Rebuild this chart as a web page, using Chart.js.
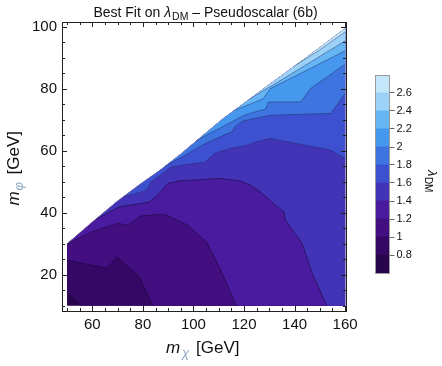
<!DOCTYPE html>
<html><head><meta charset="utf-8">
<script src="https://cdn.jsdelivr.net/npm/chart.js@4.4.1/dist/chart.umd.min.js"></script>
<style>
html,body{margin:0;padding:0;background:#fff;}
#wrap{position:relative;width:442px;height:366px;overflow:hidden;}
#main{position:absolute;left:0;top:0;width:442px;height:366px;}
#cb{position:absolute;left:360px;top:60px;width:82px;height:230px;}
</style></head><body>
<div id="wrap"><canvas id="main" width="442" height="366"></canvas><canvas id="cb" width="82" height="230"></canvas></div>
<script>
// ---------- data ----------
const X_TICKS = [60, 80, 100, 120, 140, 160];
const Y_TICKS = [20, 40, 60, 80, 100];
const LEVELS = [0.8, 1.0, 1.2, 1.4, 1.6, 1.8, 2.0, 2.2, 2.4, 2.6];
const BAND_EDGES = [0.6, 0.8, 1.0, 1.2, 1.4, 1.6, 1.8, 2.0, 2.2, 2.4, 2.6, 2.8];
const X_RANGE = [50, 160];
const Y_FLOOR = 10;
// upper edge of the allowed region (m_phi vs m_chi)
const TOP_EDGE = [[50,30],[60,37],[70,43.8],[79,49.3],[87,53.9],[95,59],[103,64.5],[112,70.6],[120,75.4],[130,81.4],[140,87.4],[150,93.4],[160,99.5]];
// contour lines of lambda_DM (one per level)
const C_08 = [[50,14.5],[55.4,10]];
const C_10 = [[50,24.7],[66,22.1],[69.6,25.8],[78.6,19.4],[83.9,10]];
const C_12 = [[50,30],[60,33.9],[70,36.6],[73.9,36],[79.3,39],[86.6,39.5],[89.2,39.3],[97.8,36],[105.2,30.6],[110.8,21.5],[117,10]];
const C_14 = [[61,37.7],[70.6,41.9],[82.6,43.5],[86.6,46.3],[89.9,49.5],[94.5,50.3],[110.5,51.1],[118.4,50.3],[122.5,48.9],[126.4,46.8],[131.7,43],[135.8,40.3],[136.4,37.6],[143,30.1],[147,20.4],[152.8,10]];
const C_16 = [[72.5,45.3],[78.6,46.5],[81.5,47.3],[83.3,50],[86.6,51.8],[91.2,54.8],[96.5,55.5],[104.5,56.3],[108.5,59.2],[114.5,60.8],[119.8,61.5],[125.1,62.9],[130.4,64],[154.3,60.2],[160,57.5]];
const C_18 = [[89,55.2],[96.5,58.5],[103.8,62],[111.8,65],[115.2,66.1],[116.5,67.8],[119.1,69.5],[123.7,70.4],[130.4,71.5],[154.3,72.1],[160,78.5]];
const C_20 = [[101,63.2],[106,65.5],[112,68],[120,71.5],[125.7,72.9],[128.4,73.4],[129.7,75.8],[142.4,75.8],[146.3,80.1],[160,88]];
const C_22 = [[116,73],[124,75.6],[127.7,76.9],[129,78.5],[130.4,80.1],[160,92.3]];
const C_24 = [[122,76.6],[128,79.6],[131,81],[160,95.5]];
const C_26 = [[140,87.4],[150,92.6],[160,98.4]];
const CONTOURS = [C_08, C_10, C_12, C_14, C_16, C_18, C_20, C_22, C_24, C_26];

// ---------- styles ----------
const PALETTE = ['#29054e','#350866','#430e80','#4a1b9f','#4333b6','#3c50d0','#3d74e0','#4598ee','#66b6f5','#9dd2f8','#c4e6fa'];
const FONT = "'Liberation Sans', Arial, Helvetica, sans-serif";

// region where lambda exceeds a level: contour line closed along the domain edge
function regionAbove(line) {
  const s = line[0], e = line[line.length - 1];
  const pts = line.slice();
  if (e[1] <= Y_FLOOR + 1e-6) pts.push([X_RANGE[1], Y_FLOOR]);
  pts.push(TOP_EDGE[TOP_EDGE.length - 1]);
  for (let i = TOP_EDGE.length - 2; i >= 1; i--) if (TOP_EDGE[i][0] > s[0] + 0.01) pts.push(TOP_EDGE[i]);
  if (s[0] <= X_RANGE[0] + 1e-6 && s[1] < TOP_EDGE[0][1]) pts.push(TOP_EDGE[0]);
  pts.push(s);
  return pts;
}
const toXY = pts => pts.map(p => ({x: p[0], y: p[1]}));

const layers = [];
layers.push({data: toXY([[X_RANGE[0], Y_FLOOR], ...TOP_EDGE, [X_RANGE[1], Y_FLOOR], [X_RANGE[0], Y_FLOOR]]),
  backgroundColor: PALETTE[0], borderWidth: 0, fill: 'shape'});
CONTOURS.forEach((c, i) => layers.push({data: toXY(regionAbove(c)), backgroundColor: PALETTE[i + 1], borderWidth: 0, fill: 'shape'}));
CONTOURS.forEach((c, i) => layers.push({data: toXY(c), borderColor: i < 4 ? 'rgba(20,8,50,0.55)' : 'rgba(30,40,90,0.45)', borderWidth: 1, fill: false}));
layers.push({data: toXY(TOP_EDGE), borderColor: 'rgba(170,170,180,0.55)', borderWidth: 0.8, fill: false});
const N = layers.length;
layers.forEach((d, i) => { d.order = N - i; d.pointRadius = 0; d.tension = 0; d.borderColor = d.borderColor || 'rgba(0,0,0,0)'; });

const mainDecor = {
  id: 'mainDecor',
  afterDraw(chart) {
    const ctx = chart.ctx, a = chart.chartArea, xs = chart.scales.x, ys = chart.scales.y;
    ctx.save();
    ctx.strokeStyle = '#222'; ctx.lineWidth = 1;
    ctx.strokeRect(Math.round(a.left) + 0.5, Math.round(a.top) + 0.5, Math.round(a.right - a.left), Math.round(a.bottom - a.top));
    ctx.beginPath();
    for (let v = 50; v <= 160; v += 5) {
      const px = Math.round(xs.getPixelForValue(v)) + 0.5;
      const len = X_TICKS.includes(v) ? 5 : 3;
      ctx.moveTo(px, a.bottom); ctx.lineTo(px, a.bottom - len);
      ctx.moveTo(px, a.top); ctx.lineTo(px, a.top + len);
    }
    for (let v = 10; v <= 100; v += 5) {
      const py = Math.round(ys.getPixelForValue(v)) + 0.5;
      const len = Y_TICKS.includes(v) ? 5 : 3;
      ctx.moveTo(a.left, py); ctx.lineTo(a.left + len, py);
      ctx.moveTo(a.right, py); ctx.lineTo(a.right - len, py);
    }
    ctx.stroke();

    // title
    ctx.fillStyle = '#111'; ctx.textBaseline = 'alphabetic';
    const p1 = 'Best Fit on ', p2 = 'λ', p3 = 'DM', p4 = ' – Pseudoscalar (6b)';
    ctx.font = '14px ' + FONT; const w1 = ctx.measureText(p1).width;
    ctx.font = 'italic 14px ' + FONT; const w2 = ctx.measureText(p2).width;
    ctx.font = '10.5px ' + FONT; const w3 = ctx.measureText(p3).width;
    ctx.font = '14px ' + FONT; const w4 = ctx.measureText(p4).width;
    let tx = 205.5 - (w1 + w2 + w3 + w4 + 1) / 2;
    ctx.font = '14px ' + FONT; ctx.fillText(p1, tx, 16.5); tx += w1;
    ctx.font = 'italic 14px ' + FONT; ctx.fillText(p2, tx, 16.5); tx += w2 + 1;
    ctx.font = '10.5px ' + FONT; ctx.fillText(p3, tx, 19.5); tx += w3;
    ctx.font = '14px ' + FONT; ctx.fillText(p4, tx, 16.5);

    // x axis title
    const cx = (a.left + a.right) / 2;
    ctx.fillStyle = '#111';
    ctx.font = 'italic 17px ' + FONT; ctx.fillText('m', cx - 38, 353);
    ctx.fillStyle = '#8fa6c4'; ctx.font = 'italic 13px ' + FONT; ctx.fillText('χ', cx - 22, 357);
    ctx.fillStyle = '#111'; ctx.font = '17px ' + FONT; ctx.fillText('[GeV]', cx - 8, 353);

    // y axis title
    ctx.translate(18.5, 205.5); ctx.rotate(-Math.PI / 2);
    ctx.font = 'italic 17px ' + FONT; ctx.fillText('m', 0, 0);
    ctx.fillStyle = '#8fa6c4'; ctx.font = 'italic 13px ' + FONT; ctx.fillText('φ', 15, 4);
    ctx.fillStyle = '#111'; ctx.font = '17px ' + FONT; ctx.fillText('[GeV]', 31, 0);
    ctx.restore();
  }
};

new Chart(document.getElementById('main'), {
  type: 'line',
  data: {datasets: layers},
  options: {
    responsive: false, animation: false, events: [],
    layout: {padding: {left: 0, top: 22, right: 96, bottom: 0}},
    plugins: {legend: {display: false}, tooltip: {enabled: false}, title: {display: false}},
    scales: {
      x: {type: 'linear', min: 48, max: 160.35,
        afterBuildTicks: s => { s.ticks = X_TICKS.map(v => ({value: v})); },
        afterFit: s => { s.height = 55; },
        grid: {display: false, drawTicks: false}, border: {display: false},
        ticks: {color: '#111', padding: 5, maxRotation: 0, font: {family: FONT, size: 15}}},
      y: {type: 'linear', min: 8.3, max: 101.6,
        afterBuildTicks: s => { s.ticks = Y_TICKS.map(v => ({value: v})); },
        afterFit: s => { s.width = 62; },
        grid: {display: false, drawTicks: false}, border: {display: false},
        ticks: {color: '#111', padding: 5, font: {family: FONT, size: 15}}}
    }
  },
  plugins: [mainDecor]
});

// ---------- colour bar ----------
const cbDecor = {
  id: 'cbDecor',
  afterDraw(chart) {
    const ctx = chart.ctx, a = chart.chartArea;
    ctx.save();
    ctx.strokeStyle = '#9a9a9a'; ctx.lineWidth = 1;
    ctx.strokeRect(Math.round(a.left) + 0.5, Math.round(a.top) + 0.5, Math.round(a.right - a.left) - 1, Math.round(a.bottom - a.top));
    ctx.fillStyle = '#111'; ctx.textBaseline = 'alphabetic';
    ctx.translate(68, 110); ctx.rotate(Math.PI / 2);
    ctx.font = 'italic 13px ' + FONT; ctx.fillText('λ', 0, 0);
    const w = ctx.measureText('λ').width;
    ctx.font = '10px ' + FONT; ctx.fillText('DM', w + 0.5, 3);
    ctx.restore();
  }
};
new Chart(document.getElementById('cb'), {
  type: 'bar',
  data: {labels: [''], datasets: BAND_EDGES.slice(0, -1).map((lo, i) => ({
    data: [[lo, BAND_EDGES[i + 1]]], backgroundColor: PALETTE[i], borderWidth: 0,
    barPercentage: 1, categoryPercentage: 1, grouped: false, inflateAmount: 0.5}))},
  options: {
    responsive: false, animation: false, events: [],
    layout: {padding: {left: 15, top: 15, bottom: 17, right: 0}},
    plugins: {legend: {display: false}, tooltip: {enabled: false}},
    scales: {
      x: {display: false},
      y: {position: 'right', min: 0.6, max: 2.8,
        afterBuildTicks: s => { s.ticks = LEVELS.map(v => ({value: v})); },
        afterFit: s => { s.width = 52.5; },
        grid: {drawOnChartArea: false, drawTicks: true, tickLength: 5, color: '#666'},
        border: {display: false},
        ticks: {color: '#111', padding: 2, font: {family: FONT, size: 11}, callback: v => String(+(+v).toFixed(1))}}
    }
  },
  plugins: [cbDecor]
});
</script></body></html>
